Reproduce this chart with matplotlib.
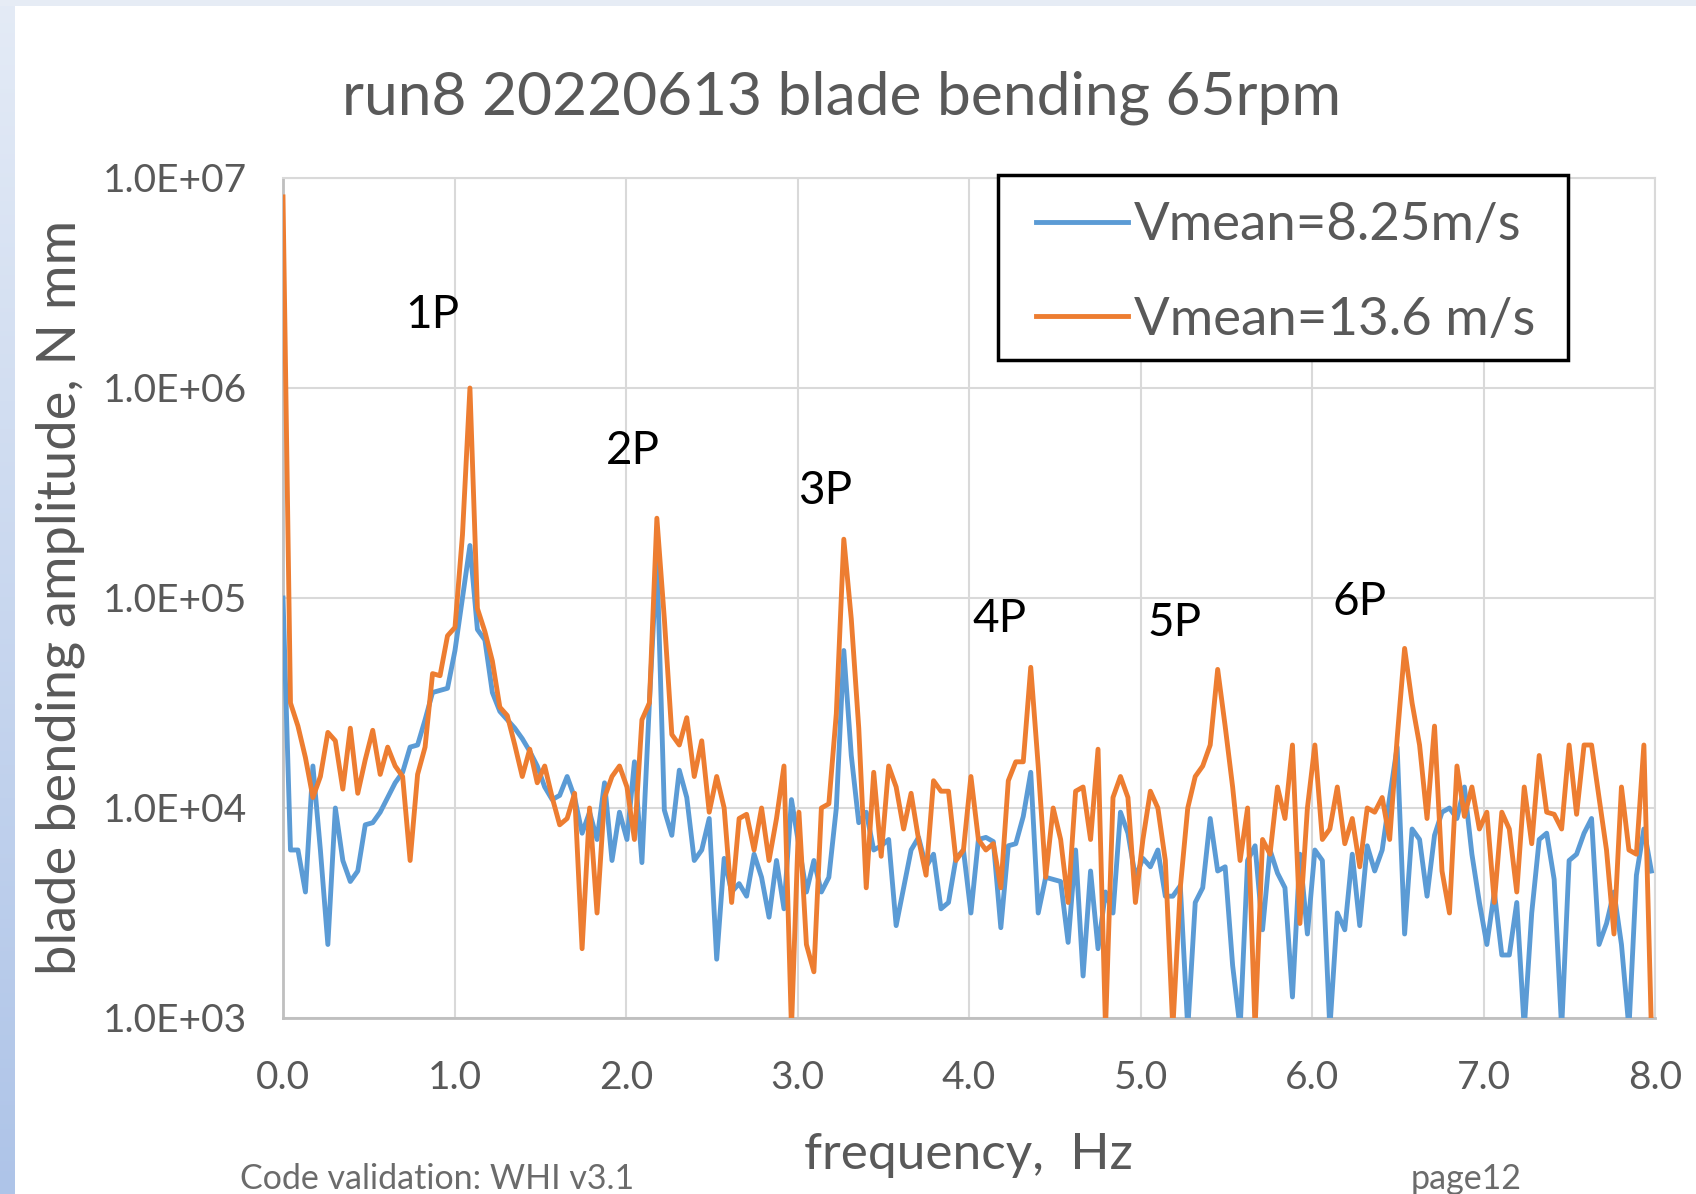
import numpy as np
import matplotlib
matplotlib.use('Agg')
import matplotlib.pyplot as plt
from matplotlib.patches import Rectangle

plt.rcParams['font.family'] = ['Lato', 'DejaVu Sans']

# frequency resolution of the spectrum (Hz)
df = 0.0436

# log10 of blade bending amplitude [N mm]
log_amp_825 = [
    5.0, 3.8, 3.8, 3.6, 4.2, 3.8, 3.35, 4.0, 3.75, 3.65,
    3.7, 3.92, 3.93, 3.98, 4.05, 4.12, 4.17, 4.29, 4.3, 4.42,
    4.55, 4.56, 4.57, 4.75, 5.0, 5.25, 4.85, 4.8, 4.55, 4.46,
    4.42, 4.38, 4.33, 4.27, 4.2, 4.1, 4.04, 4.06, 4.15, 4.05,
    3.88, 3.98, 3.85, 4.12, 3.75, 3.98, 3.85, 4.22, 3.74, 4.5,
    5.2, 3.99, 3.87, 4.18, 4.05, 3.75, 3.8, 3.95, 3.28, 3.76,
    3.6, 3.64, 3.58, 3.78, 3.67, 3.48, 3.75, 3.52, 4.04, 3.82,
    3.6, 3.75, 3.6, 3.67, 4.0, 4.75, 4.25, 3.93, 3.98, 3.8,
    3.82, 3.85, 3.44, 3.62, 3.8, 3.86, 3.72, 3.78, 3.52, 3.55,
    3.76, 3.8, 3.5, 3.85, 3.86, 3.84, 3.43, 3.82, 3.83, 3.96,
    4.17, 3.5, 3.67, 3.66, 3.65, 3.36, 3.8, 3.2, 3.7, 3.33,
    3.6, 3.5, 3.98, 3.88, 3.67, 3.76, 3.72, 3.8, 3.58, 3.58,
    3.63, 2.95, 3.55, 3.62, 3.95, 3.7, 3.72, 3.25, 2.95, 3.75,
    3.82, 3.42, 3.8, 3.69, 3.62, 3.1, 3.78, 3.4, 3.8, 3.75,
    2.95, 3.5, 3.42, 3.78, 3.44, 3.82, 3.7, 3.8, 4.05, 4.29,
    3.4, 3.9, 3.85, 3.58, 3.87, 3.98, 4.0, 3.95, 4.1, 3.78,
    3.55, 3.35, 3.6, 3.3, 3.3, 3.55, 2.95, 3.5, 3.85, 3.88,
    3.66, 2.95, 3.75, 3.78, 3.88, 3.95, 3.35, 3.45, 3.6, 3.35,
    2.95, 3.68, 3.9, 3.7,
]

log_amp_136 = [
    6.91, 4.5, 4.39, 4.24, 4.05, 4.15, 4.36, 4.32, 4.09, 4.38,
    4.07, 4.23, 4.37, 4.16, 4.29, 4.2, 4.15, 3.75, 4.16, 4.29,
    4.64, 4.63, 4.82, 4.86, 5.3, 6.0, 4.95, 4.84, 4.7, 4.48,
    4.44, 4.3, 4.15, 4.28, 4.12, 4.2, 4.05, 3.92, 3.95, 4.07,
    3.33, 4.0, 3.5, 4.05, 4.15, 4.2, 4.1, 3.85, 4.42, 4.5,
    5.38, 4.9, 4.35, 4.3, 4.43, 4.15, 4.32, 3.98, 4.15, 4.0,
    3.55, 3.95, 3.97, 3.8, 4.0, 3.75, 3.95, 4.2, 2.95, 3.98,
    3.35, 3.22, 4.0, 4.02, 4.45, 5.28, 4.9, 4.38, 3.62, 4.17,
    3.77, 4.2, 4.1, 3.9, 4.07, 3.85, 3.68, 4.13, 4.08, 4.08,
    3.75, 3.8, 4.15, 3.85, 3.8, 3.83, 3.62, 4.13, 4.22, 4.22,
    4.67, 4.2, 3.67, 4.0, 3.85, 3.55, 4.08, 4.1, 3.85, 4.28,
    2.95, 4.05, 4.15, 4.05, 3.55, 3.85, 4.08, 4.0, 3.75, 2.95,
    3.62, 4.0, 4.15, 4.2, 4.3, 4.66, 4.39, 4.1, 3.75, 4.0,
    2.95, 3.85, 3.78, 4.1, 3.95, 4.3, 3.45, 4.0, 4.3, 3.85,
    3.9, 4.1, 3.83, 3.95, 3.72, 4.0, 3.98, 4.05, 3.85, 4.33,
    4.76, 4.5, 4.3, 3.95, 4.39, 3.7, 3.5, 4.2, 3.96, 4.1,
    3.9, 3.98, 3.55, 3.98, 3.9, 3.6, 4.1, 3.83, 4.25, 3.98,
    3.97, 3.9, 4.3, 3.97, 4.3, 4.3, 4.05, 3.8, 3.4, 4.1,
    3.8, 3.78, 4.3, 2.95,
]

# harmonic labels: (text, freq, log10 amplitude)
peak_labels = ['1P', '2P', '3P', '4P', '5P', '6P']
peak_x = [0.87, 2.04, 3.16, 4.18, 5.20, 6.28]
peak_logy = [6.35, 5.70, 5.51, 4.90, 4.88, 4.98]

yticks = [1e3, 1e4, 1e5, 1e6, 1e7]
ytick_labels = ['1.0E+03', '1.0E+04', '1.0E+05', '1.0E+06', '1.0E+07']
xticks = [0, 1, 2, 3, 4, 5, 6, 7, 8]

freq = df * np.arange(len(log_amp_825))
amp_825 = 10 ** np.array(log_amp_825)
amp_136 = 10 ** np.array(log_amp_136)

W, H = 1696, 1194
fig = plt.figure(figsize=(W / 100, H / 100), dpi=100)
fig.patch.set_facecolor('white')

# slide background: light blue strip on the left, thin one on top
strip = fig.add_axes([0, 0, 15 / W, 1])
grad = np.linspace(0, 1, 256).reshape(-1, 1)
strip.imshow(grad, aspect='auto', cmap=matplotlib.colors.LinearSegmentedColormap.from_list(
    'slide', ['#e4ebf6', '#aec4e8']), extent=[0, 1, 0, 1])
strip.axis('off')
top = fig.add_axes([0, 1 - 6 / H, 1, 6 / H])
top.set_facecolor('#e6ecf5')
top.set_xticks([])
top.set_yticks([])
for s in top.spines.values():
    s.set_visible(False)

ax = fig.add_axes([283 / W, 1 - 1018 / H, (1655 - 283) / W, (1018 - 178) / H])
blue = '#5b9bd5'
orange = '#ed7d31'
gray = '#595959'

ax.plot(freq, amp_825, color=blue, lw=3.5, label='Vmean=8.25m/s', zorder=3)
ax.plot(freq, amp_136, color=orange, lw=3.5, label='Vmean=13.6 m/s', zorder=4)

ax.set_yscale('log')
ax.set_xlim(0, 8)
ax.set_ylim(1e3, 1e7)
ax.set_yticks(yticks)
ax.set_yticklabels(ytick_labels)
ax.yaxis.set_minor_locator(matplotlib.ticker.NullLocator())
ax.set_xticks(xticks)
ax.set_xticklabels(['%.1f' % v for v in xticks])
ax.tick_params(length=0, labelsize=28, labelcolor=gray)
ax.tick_params(axis='y', pad=26)
ax.tick_params(axis='x', pad=30)
ax.grid(True, color='#d9d9d9', lw=1.5)
ax.set_axisbelow(True)
for side in ['top', 'right']:
    ax.spines[side].set_color('#d9d9d9')
    ax.spines[side].set_linewidth(1.5)
for side in ['left', 'bottom']:
    ax.spines[side].set_color('#bfbfbf')
    ax.spines[side].set_linewidth(2)

for lab, x, ly in zip(peak_labels, peak_x, peak_logy):
    ax.text(x, 10 ** ly, lab, fontsize=33, color='black', ha='center', va='center', zorder=5)

# legend box drawn by hand, entries placed inside it
ax.add_patch(Rectangle((998 / W, 1 - 360 / H), 570 / W, 185 / H,
                       transform=fig.transFigure, facecolor='white',
                       edgecolor='black', lw=2.5, zorder=9, clip_on=False))
leg = ax.legend(loc='upper left', bbox_to_anchor=(1036 / W, 1 - 202 / H),
                bbox_transform=fig.transFigure, fontsize=38, frameon=False,
                handlelength=1.75, handletextpad=0.1,
                labelspacing=0.9, borderpad=0, borderaxespad=0)
leg.set_zorder(10)
for t in leg.get_texts():
    t.set_color(gray)

fig.text(841 / W, 1 - 98 / H, 'run8 20220613 blade bending 65rpm',
         fontsize=43.5, color=gray, ha='center', va='center')
fig.text(60 / W, 1 - 597 / H, 'blade bending amplitude, N mm', rotation=90,
         fontsize=39, color=gray, ha='center', va='center')
fig.text(968 / W, 1 - 1155 / H, 'frequency,  Hz',
         fontsize=37, color=gray, ha='center', va='center')
fig.text(240 / W, 1 - 1179 / H, 'Code validation: WHI v3.1',
         fontsize=24.5, color='#6b6b6b', ha='left', va='center')
fig.text(1411 / W, 1 - 1179 / H, 'page12',
         fontsize=24.5, color='#6b6b6b', ha='left', va='center')

fig.savefig('out.png', dpi=100)
